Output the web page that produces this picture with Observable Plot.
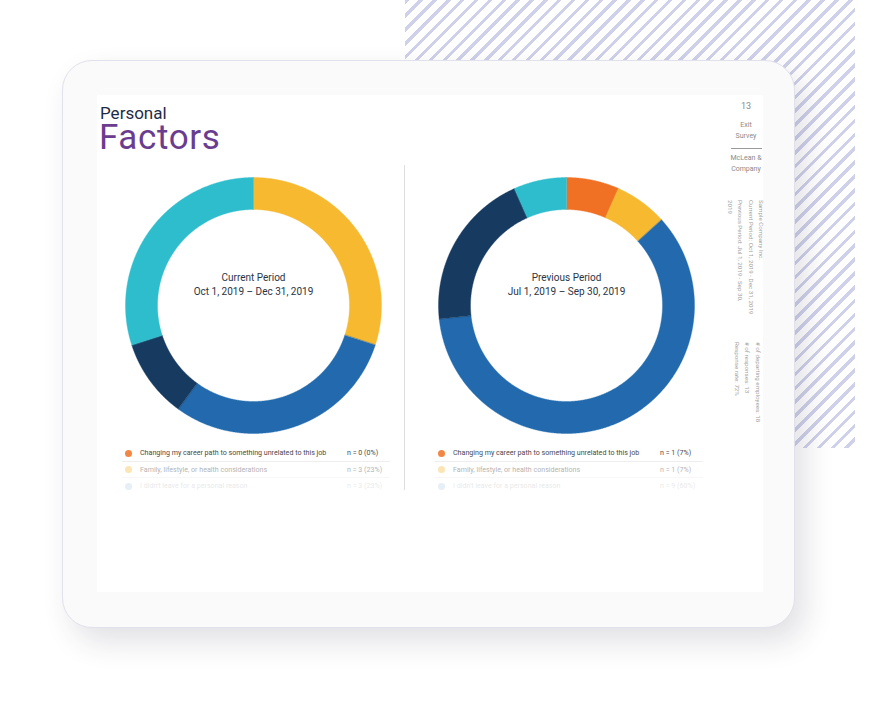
<!DOCTYPE html>
<html>
<head>
<meta charset="utf-8">
<script src="https://cdn.jsdelivr.net/npm/d3@7"></script>
<script src="https://cdn.jsdelivr.net/npm/@observablehq/plot@0.6"></script>
<style>
  html, body { margin: 0; padding: 0; background: #fff; }
  #stage { position: relative; width: 878px; height: 726px; overflow: hidden; background: #fff; font-family: Roboto, "Open Sans", sans-serif; }
  #stripes { position: absolute; left: 405px; top: 0; width: 450px; height: 448px;
    background: repeating-linear-gradient(135deg, #cfd1ea 0 3.2px, #ffffff 3.2px 9.8px); }
  #tablet { position: absolute; left: 62px; top: 60px; width: 733px; height: 568px; border-radius: 30px;
    background: #fafafb; border: 1px solid #e1e1eb; box-sizing: border-box;
    box-shadow: 10px 14px 30px rgba(40, 40, 70, 0.14); }
  #screen { position: absolute; left: 97px; top: 95px; width: 666px; height: 497px; background: #fff; }
  .abs { position: absolute; white-space: nowrap; }
  #t1 { left: 100px; top: 105.5px; font-size: 17px; color: #1f2b45; line-height: 14px; }
  #t2 { left: 99px; top: 123.5px; font-size: 35px; font-weight: 400; color: #6a3d8f; line-height: 27px; letter-spacing: 0.6px; }
  #divider { position: absolute; left: 404px; top: 165px; width: 1px; height: 325px; background: #dedede; }
  .side { position: absolute; left: 728px; width: 36px; text-align: center; color: #8a8a8a; font-size: 7px; line-height: 10.5px; }
  .vert { position: absolute; writing-mode: vertical-rl; color: #a0a0a0; font-size: 6.2px; line-height: 10.5px; white-space: nowrap; }
  .donut { position: absolute; top: 177px; }
  .legend { position: absolute; top: 445px; width: 268px; height: 50px; }
  .row { position: absolute; left: 0; width: 100%; height: 16.5px; font-size: 7.1px; color: #4a4a4a; }
  .row .dot { position: absolute; left: 3px; top: 4.8px; width: 7px; height: 7px; border-radius: 50%; }
  .row .lab { position: absolute; left: 18px; top: 3px; line-height: 10px; }
  .row .n { position: absolute; left: 225px; top: 3px; line-height: 10px; }
  .row .sep { position: absolute; left: 0; right: 0; bottom: 0; height: 1px; background: #eeeeee; }
</style>
</head>
<body>
<div id="stage">
  <div id="stripes"></div>
  <div id="tablet"></div>
  <div id="screen"></div>
  <div class="abs" id="t1">Personal</div>
  <div class="abs" id="t2">Factors</div>
  <div id="divider"></div>
  <div class="side" style="top:101px;font-size:9px;color:#8a8a8a;">13</div>
  <div class="side" style="top:120px;">Exit<br>Survey</div>
  <div style="position:absolute;left:731px;top:148px;width:31px;height:1px;background:#9a9a9a;"></div>
  <div class="side" style="top:153px;">McLean &amp;<br>Company</div>
  <div class="vert" id="vert1" style="top:200px;left:724px;"></div>
  <div class="vert" id="vert2" style="top:342px;left:731px;"></div>
  <div class="donut" id="donutCurrent" style="left:125px;"></div>
  <div class="donut" id="donutPrevious" style="left:438px;"></div>
  <div class="legend" id="legendCurrent" style="left:122px;"></div>
  <div class="legend" id="legendPrevious" style="left:435px;"></div>
</div>
<script>
// ---------- data ----------
const categories = [
  "Changing my career path to something unrelated to this job",
  "Family, lifestyle, or health considerations",
  "I didn't leave for a personal reason",
  "Other personal reason A",
  "Other personal reason B"
];
const colors = ["#f07124", "#f6b930", "#226aad", "#173b60", "#2ebdcc"];
const currentValues = [0, 3, 3, 1, 3];
const previousValues = [1, 1, 9, 3, 1];
const currentLegendCounts = ["n = 0 (0%)", "n = 3 (23%)", "n = 3 (23%)"];
const previousLegendCounts = ["n = 1 (7%)", "n = 1 (7%)", "n = 9 (60%)"];
const currentLabel = ["Current Period", "Oct 1, 2019 – Dec 31, 2019"];
const previousLabel = ["Previous Period", "Jul 1, 2019 – Sep 30, 2019"];
const sideInfo1 = ["Sample Company Inc.", "Current Period: Oct 1, 2019 - Dec 31, 2019", "Previous Period: Jul 1, 2019 - Sep 30,", "2019"];
const sideInfo2 = ["# of departing employees: 18", "# of responses: 13", "Response rate: 72%"];

// ---------- donut ----------
const innerFrac = 0.75;
function ringPolygon(a0, a1) {
  const n = Math.max(2, Math.ceil((a1 - a0) / 0.005));
  const pts = [];
  for (let i = 0; i <= n; i++) { const a = a0 + (a1 - a0) * i / n; pts.push([Math.sin(a), -Math.cos(a)]); }
  for (let i = n; i >= 0; i--) { const a = a0 + (a1 - a0) * i / n; pts.push([innerFrac * Math.sin(a), -innerFrac * Math.cos(a)]); }
  pts.push(pts[0]);
  return pts;
}
function donut(values, label) {
  const rows = categories.map((c, i) => ({category: c, value: values[i]}));
  const arcs = d3.pie().sort(null).value(d => d.value)(rows).filter(a => a.endAngle > a.startAngle);
  const features = arcs.map(a => ({
    type: "Feature",
    properties: {category: a.data.category},
    geometry: {type: "Polygon", coordinates: [ringPolygon(a.startAngle, a.endAngle)]}
  }));
  return Plot.plot({
    width: 256, height: 256, margin: 0,
    projection: {type: "identity", domain: {type: "Polygon", coordinates: [[[-1, -1], [1, -1], [1, 1], [-1, 1], [-1, -1]]]}},
    color: {domain: categories, range: colors},
    style: {background: "transparent", overflow: "visible"},
    marks: [
      Plot.geo(features, {fill: d => d.properties.category, stroke: d => d.properties.category, strokeWidth: 0.4}),
      Plot.text([label.join("\n")], {frameAnchor: "middle", dy: -22, fontSize: 10, lineHeight: 1.45, fill: "#2b3445", fontFamily: "Roboto"})
    ]
  });
}
document.getElementById("donutCurrent").append(donut(currentValues, currentLabel));
document.getElementById("donutPrevious").append(donut(previousValues, previousLabel));

// ---------- legends ----------
const rowOpacity = [1, 0.42, 0.12];
function legend(el, counts) {
  counts.forEach((cnt, i) => {
    const r = document.createElement("div");
    r.className = "row";
    r.style.top = (i * 16.5) + "px";
    r.style.opacity = rowOpacity[i];
    r.innerHTML = `<div class="dot" style="background:${colors[i]};opacity:0.85"></div><div class="lab"></div><div class="n"></div>` + (i < 2 ? `<div class="sep"></div>` : "");
    r.querySelector(".lab").textContent = categories[i];
    r.querySelector(".n").textContent = cnt;
    el.append(r);
  });
}
legend(document.getElementById("legendCurrent"), currentLegendCounts);
legend(document.getElementById("legendPrevious"), previousLegendCounts);

// ---------- rotated side info ----------
document.getElementById("vert1").innerHTML = sideInfo1.join("<br>");
document.getElementById("vert2").innerHTML = sideInfo2.join("<br>");
</script>
</body>
</html>
